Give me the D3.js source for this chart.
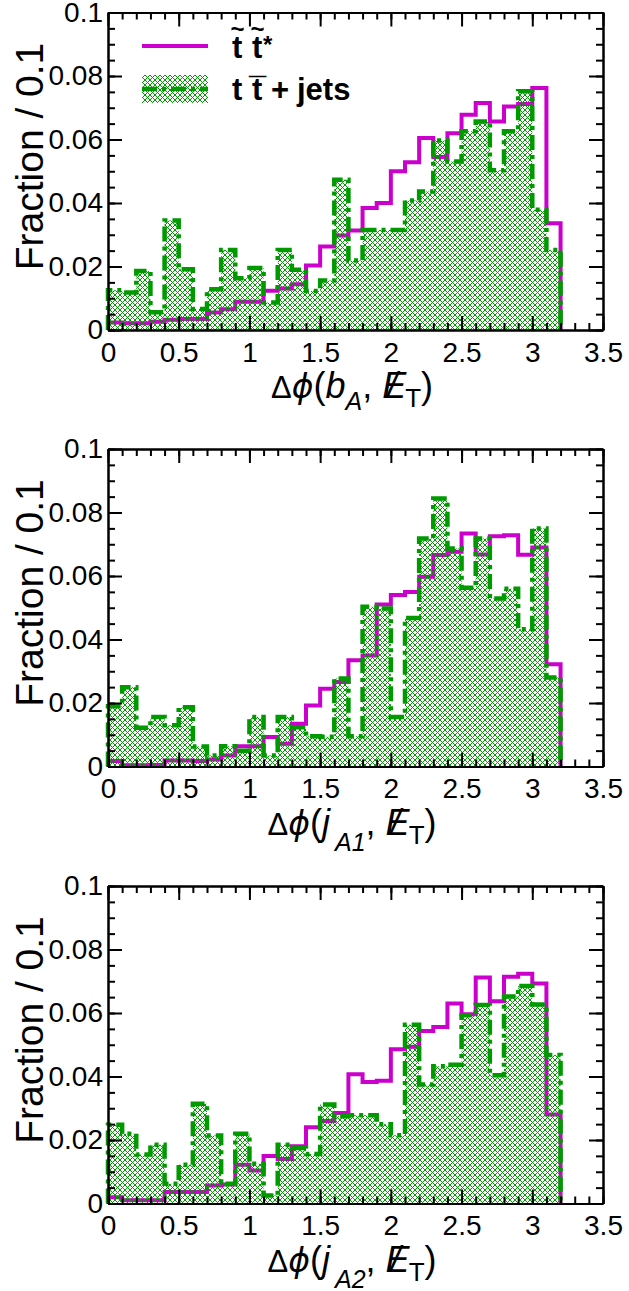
<!DOCTYPE html>
<html><head><meta charset="utf-8">
<script src="https://cdn.jsdelivr.net/npm/d3@7"></script>
<style>
body{margin:0;background:#fff;}
svg{display:block;}
text{font-family:"Liberation Sans",Arial,Helvetica,"DejaVu Sans",sans-serif;}
</style></head><body>
<svg id="chart" width="629" height="1291"></svg>
<script>
// ---------------- data ----------------
const binEdges = [0,0.1,0.2,0.3,0.4,0.5,0.6,0.7,0.8,0.9,1.0,1.1,1.2,1.3,1.4,1.5,1.6,1.7,1.8,1.9,2.0,2.1,2.2,2.3,2.4,2.5,2.6,2.7,2.8,2.9,3.0,3.1,3.2];

const stop_bA = [0.0024,0.0021,0.0021,0.0026,0.0032,0.0035,0.0035,0.0055,0.0065,0.0089,0.0089,0.0124,0.0131,0.0144,0.0203,0.0263,
                 0.0298,0.0313,0.0384,0.0400,0.0500,0.0528,0.0605,0.0545,0.0620,0.0678,0.0715,0.0657,0.0704,0.0712,0.0762,0.0336];
const ttbar_bA = [0.0125,0.0118,0.0186,0.0056,0.0345,0.0191,0.0066,0.0128,0.0252,0.0163,0.0195,0.0087,0.0252,0.0190,0.0123,0.0156,
                  0.0473,0.0219,0.0315,0.0315,0.0315,0.0408,0.0436,0.0597,0.0531,0.0626,0.0657,0.0503,0.0626,0.0752,0.0379,0.0252];

const stop_jA1 = [0.0017,0.0004,0.0004,0.0005,0.0019,0.0019,0.0017,0.0022,0.0035,0.0064,0.0064,0.0093,0.0072,0.0135,0.0192,0.0245,
                  0.0266,0.0335,0.0350,0.0510,0.0540,0.0550,0.0598,0.0666,0.0676,0.0734,0.0668,0.0725,0.0728,0.0667,0.0690,0.0322];
const ttbar_jA1 = [0.0190,0.0250,0.0122,0.0156,0.0130,0.0187,0.0063,0.0035,0.0064,0.0050,0.0156,0.0035,0.0156,0.0124,0.0095,0.0094,
                   0.0277,0.0095,0.0503,0.0498,0.0156,0.0468,0.0718,0.0844,0.0687,0.0563,0.0718,0.0529,0.0560,0.0432,0.0750,0.0280];

const stop_jA2 = [0.0020,0.0010,0.0010,0.0010,0.0036,0.0036,0.0036,0.0057,0.0060,0.0122,0.0104,0.0150,0.0140,0.0180,0.0240,0.0260,
                  0.0285,0.0407,0.0383,0.0387,0.0486,0.0494,0.0543,0.0556,0.0630,0.0596,0.0712,0.0637,0.0714,0.0724,0.0693,0.0280];
const ttbar_jA2 = [0.0248,0.0220,0.0154,0.0185,0.0062,0.0122,0.0314,0.0214,0.0062,0.0220,0.0125,0.0025,0.0185,0.0175,0.0156,0.0312,
                   0.0275,0.0278,0.0278,0.0250,0.0215,0.0563,0.0375,0.0432,0.0437,0.0593,0.0625,0.0404,0.0652,0.0685,0.0627,0.0468];

const xTicks = [0,0.5,1,1.5,2,2.5,3,3.5];
const xTickLabels = ["0","0.5","1","1.5","2","2.5","3","3.5"];
const yTicks = [0,0.02,0.04,0.06,0.08,0.1];
const yTickLabels = ["0","0.02","0.04","0.06","0.08","0.1"];
const yTitle = "Fraction / 0.1";
const legendStop = ["t","t","*"];
const legendTT = ["t","t","+","jets"];
const titleSubs = ["A","A1","A2"];
const titleObj = ["b","j","j"];

// ---------------- layout ----------------
const MAGENTA = "#cc00cc", GREEN = "#009a00";
const plotLeft = 108, plotRight = 603, plotH = 317.5;
const panelTops = [12.5, 449, 886];
const seriesStop = [stop_bA, stop_jA1, stop_jA2];
const seriesTT = [ttbar_bA, ttbar_jA1, ttbar_jA2];

const svg = d3.select("#chart");
const defs = svg.append("defs");
// pixel cross-hatch (5px period diamonds)
const pat = defs.append("pattern").attr("id","hatch").attr("patternUnits","userSpaceOnUse")
  .attr("width",5).attr("height",5);
[[0,0],[1,1],[2,2],[3,3],[4,4],[4,0],[3,1],[1,3],[0,4]].forEach(([px,py])=>{
  pat.append("rect").attr("x",px).attr("y",py).attr("width",1).attr("height",1)
    .attr("fill",GREEN).attr("shape-rendering","crispEdges");
});

const x = d3.scaleLinear().domain([0,3.5]).range([plotLeft,plotRight]);
const xMinor = d3.range(0,36).map(i=>i/10);
const yMinor = d3.range(0,21).map(i=>i*0.005);
const dash = "15 5 4 5";

panelTops.forEach((top,p)=>{
  const y = d3.scaleLinear().domain([0,0.1]).range([top+plotH, top]);
  const y0 = y(0);
  const g = svg.append("g");
  const stop = seriesStop[p], tt = seriesTT[p];
  const nb = stop.length;

  const linePts = vals => [[binEdges[0],0]].concat(vals.map((v,i)=>[binEdges[i],v]), [[binEdges[nb],vals[nb-1]],[binEdges[nb],0]]);
  const line = d3.line().x(d=>x(d[0])).y(d=>y(d[1])).curve(d3.curveStepAfter);
  const area = d3.area().x(d=>x(d[0])).y0(y0).y1(d=>y(d[1])).curve(d3.curveStepAfter);

  // signal (magenta solid)
  g.append("path").attr("d",line(linePts(stop))).attr("fill","none")
    .attr("stroke",MAGENTA).attr("stroke-width",4).attr("stroke-linejoin","miter");
  // background hatched fill
  g.append("path").attr("d",area(tt.map((v,i)=>[binEdges[i],v]).concat([[binEdges[nb],tt[nb-1]]])))
    .attr("fill","url(#hatch)").attr("stroke","none");
  // background outline dash-dot
  g.append("path").attr("d",line(linePts(tt))).attr("fill","none")
    .attr("stroke",GREEN).attr("stroke-width",4.5).attr("stroke-dasharray",dash);

  // axes
  const styleAxis = sel => {
    sel.attr("font-size",28).attr("font-family",'"Liberation Sans",Arial,sans-serif');
    sel.selectAll("line,path").attr("stroke","#000").attr("stroke-width",2);
    sel.selectAll("text").attr("fill","#000");
  };
  g.append("g").attr("transform",`translate(0,${y0})`)
    .call(d3.axisBottom(x).tickValues(xMinor).tickSize(-7).tickSizeOuter(0).tickFormat("")).call(styleAxis);
  g.append("g").attr("transform",`translate(0,${y0})`)
    .call(d3.axisBottom(x).tickValues(xTicks).tickSize(-14).tickSizeOuter(0).tickPadding(12)
      .tickFormat((d,i)=>xTickLabels[i])).call(styleAxis);
  g.append("g").attr("transform",`translate(0,${top})`)
    .call(d3.axisTop(x).tickValues(xMinor).tickSize(-7).tickSizeOuter(0).tickFormat("")).call(styleAxis);
  g.append("g").attr("transform",`translate(0,${top})`)
    .call(d3.axisTop(x).tickValues(xTicks).tickSize(-14).tickSizeOuter(0).tickFormat("")).call(styleAxis);
  g.append("g").attr("transform",`translate(${plotLeft},0)`)
    .call(d3.axisLeft(y).tickValues(yMinor).tickSize(-7).tickSizeOuter(0).tickFormat("")).call(styleAxis);
  g.append("g").attr("transform",`translate(${plotLeft},0)`)
    .call(d3.axisLeft(y).tickValues(yTicks).tickSize(-14).tickSizeOuter(0).tickPadding(5)
      .tickFormat((d,i)=>yTickLabels[i])).call(styleAxis);
  g.append("g").attr("transform",`translate(${plotRight},0)`)
    .call(d3.axisRight(y).tickValues(yMinor).tickSize(-7).tickSizeOuter(0).tickFormat("")).call(styleAxis);
  g.append("g").attr("transform",`translate(${plotRight},0)`)
    .call(d3.axisRight(y).tickValues(yTicks).tickSize(-14).tickSizeOuter(0).tickFormat("")).call(styleAxis);

  // y title
  g.append("text").attr("transform",`translate(43,${top+144}) rotate(-90)`)
    .attr("text-anchor","middle").attr("font-size",39).attr("fill","#000").text(yTitle);

  // x title
  const t = g.append("text").attr("x",352).attr("y",y0+68).attr("text-anchor","middle").attr("fill","#000").attr("font-size",36);
  t.append("tspan").attr("font-size",31).text("\u0394");
  t.append("tspan").attr("font-style","italic").attr("font-family",'"DejaVu Sans",sans-serif').attr("font-size",33).text("\u03D5");
  t.append("tspan").text("(");
  t.append("tspan").attr("font-style","italic").text(titleObj[p]);
  const subDy = p===0 ? 12 : 16;
  t.append("tspan").attr("font-style","italic").attr("font-size",25).attr("dy",subDy).attr("dx",p===0?0:5).text(titleSubs[p]);
  t.append("tspan").attr("dy",-subDy).text(", ");
  t.append("tspan").attr("font-style","italic").text("E");
  t.append("tspan").attr("font-style","italic").attr("dx",-19).text("/");
  t.append("tspan").attr("font-size",26).attr("dx",8).attr("dy",9).text("T");
  t.append("tspan").attr("dy",-9).text(")");

  // legend (first panel only)
  if (p===0) {
    const lg = g.append("g").attr("font-weight","bold").attr("fill","#000");
    lg.append("line").attr("x1",142).attr("x2",208).attr("y1",46).attr("y2",46)
      .attr("stroke",MAGENTA).attr("stroke-width",4);
    lg.append("rect").attr("x",142).attr("y",75).attr("width",66).attr("height",28).attr("fill","url(#hatch)");
    lg.append("line").attr("x1",142).attr("x2",208).attr("y1",89).attr("y2",89)
      .attr("stroke",GREEN).attr("stroke-width",4.5).attr("stroke-dasharray",dash);
    // entry 1
    lg.append("text").attr("x",232).attr("y",58).attr("font-size",31).text(legendStop[0]);
    lg.append("text").attr("x",252).attr("y",58).attr("font-size",31).text(legendStop[1]);
    lg.append("text").attr("x",263).attr("y",53).attr("font-size",24).text(legendStop[2]);
    lg.append("text").attr("x",237.5).attr("y",37).attr("font-size",24).attr("text-anchor","middle").text("~");
    lg.append("text").attr("x",257.5).attr("y",37).attr("font-size",24).attr("text-anchor","middle").text("~");
    // entry 2
    lg.append("text").attr("x",232).attr("y",100).attr("font-size",31).text(legendTT[0]);
    lg.append("text").attr("x",252).attr("y",100).attr("font-size",31).text(legendTT[1]);
    lg.append("text").attr("x",257.5).attr("y",100).attr("font-size",31).attr("text-anchor","middle").text("\u00AF");
    lg.append("text").attr("x",271).attr("y",100).attr("font-size",31).text(legendTT[2]);
    lg.append("text").attr("x",297).attr("y",100).attr("font-size",31).text(legendTT[3]);
  }
});
</script></body></html>
